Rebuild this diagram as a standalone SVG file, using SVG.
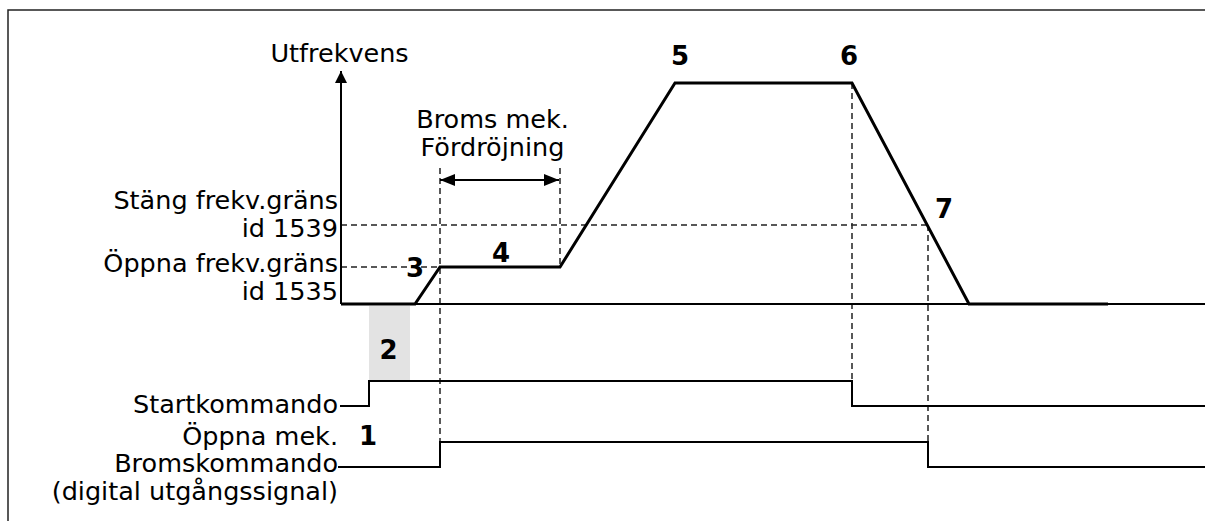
<svg xmlns="http://www.w3.org/2000/svg" width="1205" height="521" viewBox="0 0 1205 521">
<style>
text{font-family:"DejaVu Sans","Liberation Sans",sans-serif;font-size:25.5px;fill:#000}
.r{text-anchor:end}
.m{text-anchor:middle}
.b{font-weight:bold;text-anchor:middle;font-size:26px}
.sig{fill:none;stroke:#000;stroke-width:2}
.wave{fill:none;stroke:#000;stroke-width:3;stroke-linejoin:miter}
.dash{fill:none;stroke:#222;stroke-width:1.5;stroke-dasharray:6 4}
</style>
<defs>
<marker id="ah" viewBox="0 0 12 12" refX="12" refY="6" markerWidth="12" markerHeight="12" markerUnits="userSpaceOnUse" orient="auto-start-reverse">
<path d="M0,0 L12,6 L0,12 z" fill="#000"/>
</marker>
<marker id="dh" viewBox="0 0 15 12" refX="15" refY="6" markerWidth="15" markerHeight="12" markerUnits="userSpaceOnUse" orient="auto-start-reverse">
<path d="M0,0 L15,6 L0,12 z" fill="#000"/>
</marker>
</defs>
<rect x="0" y="0" width="1205" height="521" fill="#fff"/>
<rect id="frame" x="8" y="10" width="1300" height="600" fill="none" stroke="#222" stroke-width="1.5"/>
<g id="phase2-shade"><rect x="369" y="306" width="41" height="75" fill="#e3e3e3"/></g>
<g id="connectors">
<line class="dash" x1="341" y1="225" x2="928" y2="225"/>
<line class="dash" x1="341" y1="267" x2="440" y2="267"/>
<line class="dash" x1="440" y1="168" x2="440" y2="442"/>
<line class="dash" x1="560" y1="168" x2="560" y2="267"/>
<line class="dash" x1="852" y1="83" x2="852" y2="381"/>
<line class="dash" x1="928" y1="225" x2="928" y2="442"/>
<line x1="341" y1="304" x2="341" y2="71" stroke="#000" stroke-width="2" marker-end="url(#ah)"/>
<line x1="341" y1="304" x2="1205" y2="304" stroke="#000" stroke-width="2"/>
<line x1="440" y1="180" x2="559" y2="180" stroke="#000" stroke-width="2" marker-start="url(#dh)" marker-end="url(#dh)"/>
<polyline class="wave" points="341,304 415,304 440,267 560,267 675,83 852,83 969,304 1108,304"/>
<polyline class="sig" points="340,406 369,406 369,381 852,381 852,406 1205,406"/>
<polyline class="sig" points="338,467 440,467 440,442 928,442 928,467 1205,467"/>
</g>
<g id="axis-label"><text class="m" x="339.5" y="62">Utfrekvens</text></g>
<g id="delay-label">
<text class="m" x="492.5" y="128">Broms mek.</text>
<text class="m" x="492.5" y="156">Fördröjning</text>
</g>
<g id="close-limit">
<text class="r" x="338" y="209">Stäng frekv.gräns</text>
<text class="r" x="338" y="237">id 1539</text>
</g>
<g id="open-limit">
<text class="r" x="338" y="272">Öppna frekv.gräns</text>
<text class="r" x="338" y="300">id 1535</text>
</g>
<g id="start-label"><text class="r" x="338" y="413">Startkommando</text></g>
<g id="brake-label">
<text class="r" x="338" y="445">Öppna mek.</text>
<text class="r" x="338" y="472">Bromskommando</text>
<text class="r" x="338" y="500">(digital utgångssignal)</text>
</g>
<g id="markers">
<text class="b" x="368" y="445">1</text>
<text class="b" x="388.5" y="359">2</text>
<text class="b" x="415" y="277">3</text>
<text class="b" x="501" y="262">4</text>
<text class="b" x="680" y="65">5</text>
<text class="b" x="849" y="65">6</text>
<text class="b" x="944" y="218">7</text>
</g>
</svg>
